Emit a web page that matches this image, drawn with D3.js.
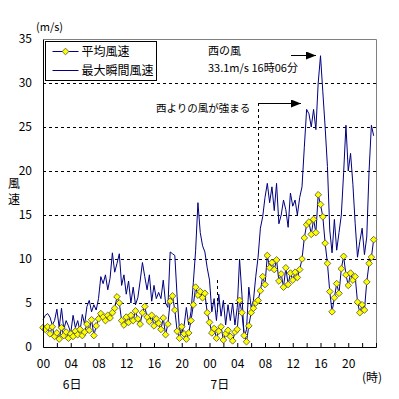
<!DOCTYPE html>
<html>
<head>
<meta charset="utf-8">
<script src="https://cdn.jsdelivr.net/npm/d3@7"></script>
<style>
  body { margin: 0; background: #fff; }
  text { font-family: "Noto Sans CJK JP", "DejaVu Sans", sans-serif; fill: #000; }
</style>
</head>
<body>
<div id="chart"></div>
<script>
// 20-minute readings, 6日 00:00 to 7日 23:40 (3 per hour)
var maxGust = [
  3.1, 3.6, 3.8,   3.4, 2.5, 3.0,   4.3, 2.2, 4.4,   2.0, 3.0, 2.4,
  1.6, 3.6, 2.2,   3.0, 1.8, 3.7,   2.6, 4.6, 5.3,   4.0, 4.8, 4.2,
  5.5, 8.0, 7.2,   8.2, 6.5, 7.8,   10.7, 8.5, 9.5,  10.6, 7.0, 8.2,
  6.0, 7.5, 5.0,   6.8, 4.8, 5.6,   7.5, 9.6, 8.0,   6.5, 8.2, 5.2,
  7.0, 5.5, 6.2,   5.5, 7.6, 5.0,   4.5, 10.8, 10.6, 10.4, 5.7, 2.0,
  1.6, 2.4, 4.5,   2.5, 4.0, 7.3,   11.0, 16.4, 13.0, 11.5, 10.8, 9.0,
  7.6, 4.0, 5.5,   3.0, 6.0, 3.5,   5.3, 2.5, 4.8,   3.0, 5.0, 2.5,
  4.5, 10.0, 6.0,  1.0, 2.0, 6.8,   4.5, 5.3, 8.0,   10.2, 13.5, 14.8,
  17.0, 18.6, 16.4, 18.2, 15.5, 18.6, 14.0, 15.0, 16.7, 15.6, 13.6, 17.5,
  16.0, 16.7, 15.0, 17.0, 18.2, 22.7, 27.0, 26.5, 25.0, 27.0, 24.7, 30.0,
  33.1, 29.0, 25.0, 20.5, 13.3, 10.7, 14.5, 11.0, 13.0, 15.0, 19.8, 25.2,
  20.0, 22.0, 18.5, 14.0, 10.2, 12.0, 13.5, 10.5, 12.5, 20.0, 25.2, 24.0
];
var meanWind = [
  2.2, 2.0, 2.3,   1.5, 2.3, 1.2,   1.6, 0.9, 2.2,   1.3, 1.7, 1.0,
  1.5, 1.2, 1.8,   1.4, 2.0, 1.3,   1.7, 2.6, 1.9,   3.1, 1.3, 2.4,
  3.2, 3.8, 3.4,   3.0, 3.6, 3.3,   3.9, 4.4, 5.7,   5.0, 3.0, 2.5,
  3.4, 2.8, 3.6,   3.0, 4.1, 3.2,   2.6, 3.9, 4.6,   3.4, 2.9, 3.6,
  2.4, 3.2, 2.7,   2.0, 3.3, 1.4,   2.6, 5.2, 5.8,   4.2, 1.8, 1.0,
  2.3, 1.5, 0.9,   1.6, 3.0, 4.8,   6.8, 5.9, 6.3,   5.6, 6.1, 3.9,
  2.8, 1.6, 2.1,   1.0, 1.8, 2.3,   0.8, 1.5, 1.9,   1.2, 0.7, 1.7,
  2.0, 5.3, 3.9,   1.3, 0.6, 2.4,   3.9, 4.4, 5.0,   5.3, 6.4, 8.0,
  7.1, 10.4, 9.0,  9.6, 8.8, 9.9,   7.5, 8.3, 6.8,   9.0, 7.1, 8.4,
  7.6, 8.5, 7.9,   8.8, 10.0, 12.4, 13.9, 14.2, 12.8, 14.5, 13.0, 17.3,
  16.2, 14.8, 11.8, 9.5, 6.3, 4.0,  5.6, 7.2, 6.1,   8.9, 10.3, 8.2,
  7.0, 8.4, 7.6,   8.0, 5.1, 3.9,   4.8, 4.2, 7.4,   9.5, 10.2, 12.2
];
var seriesNames = ["平均風速", "最大瞬間風速"];
var yTicks = [0, 5, 10, 15, 20, 25, 30, 35];
var hourLabels = ["00", "04", "08", "12", "16", "20", "00", "04", "08", "12", "16", "20"];
var dayLabels = [{ text: "6日", hour: 4.2 }, { text: "7日", hour: 25.5 }];

var width = 399, height = 399;
var margin = { top: 39, right: 23, bottom: 52, left: 43 };
var plotW = width - margin.left - margin.right,
    plotH = height - margin.top - margin.bottom;

var x = d3.scaleLinear().domain([0, 48]).range([0, plotW]);
var y = d3.scaleLinear().domain([0, 35]).range([plotH, 0]);

var svg = d3.select("#chart").append("svg")
  .attr("width", width)
  .attr("height", height);

var g = svg.append("g")
  .attr("transform", "translate(" + margin.left + "," + margin.top + ")");

// dashed grid lines
g.selectAll(".grid")
  .data(yTicks.filter(function(d) { return d > 0 && d < 35; }))
  .enter().append("line")
  .attr("x1", 0).attr("x2", plotW)
  .attr("y1", function(d) { return Math.round(y(d)) + 0.5; })
  .attr("y2", function(d) { return Math.round(y(d)) + 0.5; })
  .attr("stroke", "#000")
  .attr("stroke-dasharray", "3,3");

// top and right frame in grey
g.append("path")
  .attr("d", "M0.5,0.5H" + (plotW + 0.5) + "V" + plotH)
  .attr("fill", "none")
  .attr("stroke", "#808080");

// annotation leader lines
g.append("line")
  .attr("x1", 215.5).attr("x2", 215.5)
  .attr("y1", 64).attr("y2", 173)
  .attr("stroke", "#000").attr("stroke-dasharray", "3,3");
g.append("line")
  .attr("x1", 174.5).attr("x2", 174.5)
  .attr("y1", 241).attr("y2", 273)
  .attr("stroke", "#000").attr("stroke-dasharray", "3,3");

// max gust line
var line = d3.line()
  .x(function(d, i) { return x(i / 3); })
  .y(function(d) { return y(d); });

g.append("path")
  .datum(maxGust)
  .attr("d", line)
  .attr("fill", "none")
  .attr("stroke", "#000080")
  .attr("stroke-width", 1);

// mean wind line and diamond markers
g.append("path")
  .datum(meanWind)
  .attr("d", line)
  .attr("fill", "none")
  .attr("stroke", "#000080")
  .attr("stroke-width", 1);

var diamond = d3.symbol().type(d3.symbolSquare).size(22);
g.selectAll(".mk")
  .data(meanWind)
  .enter().append("path")
  .attr("d", diamond)
  .attr("transform", function(d, i) {
    return "translate(" + x(i / 3) + "," + y(d) + ") rotate(45)";
  })
  .attr("fill", "#ffff00")
  .attr("stroke", "#5a5a30")
  .attr("stroke-width", 0.8);

// axes
var yAxis = d3.axisLeft(y).tickValues(yTicks).tickSize(0).tickPadding(11);
g.append("g").call(yAxis)
  .call(function(s) { s.select(".domain").attr("stroke", "#000"); })
  .selectAll("text").style("font-size", "12px");

var xAxis = d3.axisBottom(x)
  .tickValues(d3.range(0, 49, 2))
  .tickSize(-4)
  .tickFormat(function(d) { return d % 4 == 0 && d < 48 ? hourLabels[d / 4] : ""; })
  .tickPadding(12);
g.append("g")
  .attr("transform", "translate(0," + plotH + ")")
  .call(xAxis)
  .selectAll("text").style("font-size", "12px");

// day labels under the hours
g.selectAll(".day")
  .data(dayLabels)
  .enter().append("text")
  .attr("x", function(d) { return x(d.hour); })
  .attr("y", plotH + 42)
  .attr("text-anchor", "middle")
  .style("font-size", "12px")
  .text(function(d) { return d.text; });

svg.append("text").attr("x", 362).attr("y", 382).style("font-size", "12px").text("(時)");
svg.append("text").attr("x", 36).attr("y", 31).style("font-size", "11px").text("(m/s)");
svg.append("text").attr("x", 14).attr("y", 188).attr("text-anchor", "middle").style("font-size", "12px").text("風");
svg.append("text").attr("x", 14).attr("y", 204).attr("text-anchor", "middle").style("font-size", "12px").text("速");

// annotations
svg.append("defs").append("marker")
  .attr("id", "arrow")
  .attr("viewBox", "0 0 10 8")
  .attr("refX", 10).attr("refY", 4)
  .attr("markerWidth", 10).attr("markerHeight", 8)
  .attr("markerUnits", "userSpaceOnUse")
  .attr("orient", "auto")
  .append("path").attr("d", "M0,0L10,4L0,8Z").attr("fill", "#000");

svg.append("text").attr("x", 208).attr("y", 55).style("font-size", "11px").text("西の風");
svg.append("text").attr("x", 208).attr("y", 71.5).style("font-size", "11px").text("33.1m/s 16時06分");
svg.append("line").attr("x1", 291).attr("x2", 316).attr("y1", 55.5).attr("y2", 55.5)
  .attr("stroke", "#000").attr("marker-end", "url(#arrow)");

svg.append("text").attr("x", 156).attr("y", 112).style("font-size", "10.5px").text("西よりの風が強まる");
svg.append("line").attr("x1", 258).attr("x2", 301).attr("y1", 103.5).attr("y2", 103.5)
  .attr("stroke", "#000").attr("marker-end", "url(#arrow)");

// legend
var legend = svg.append("g").attr("transform", "translate(45.5,41.5)");
legend.append("rect")
  .attr("width", 111).attr("height", 39)
  .attr("fill", "#fff").attr("stroke", "#000");
seriesNames.forEach(function(name, i) {
  var ly = 10 + i * 19;
  legend.append("line")
    .attr("x1", 7).attr("x2", 33).attr("y1", ly).attr("y2", ly)
    .attr("stroke", "#000080");
  if (i == 0) {
    legend.append("path")
      .attr("d", diamond)
      .attr("transform", "translate(20," + ly + ") rotate(45)")
      .attr("fill", "#ffff00").attr("stroke", "#5a5a30").attr("stroke-width", 0.8);
  }
  legend.append("text")
    .attr("x", 36).attr("y", ly + 4.5)
    .style("font-size", "12px")
    .text(name);
});
</script>
</body>
</html>
